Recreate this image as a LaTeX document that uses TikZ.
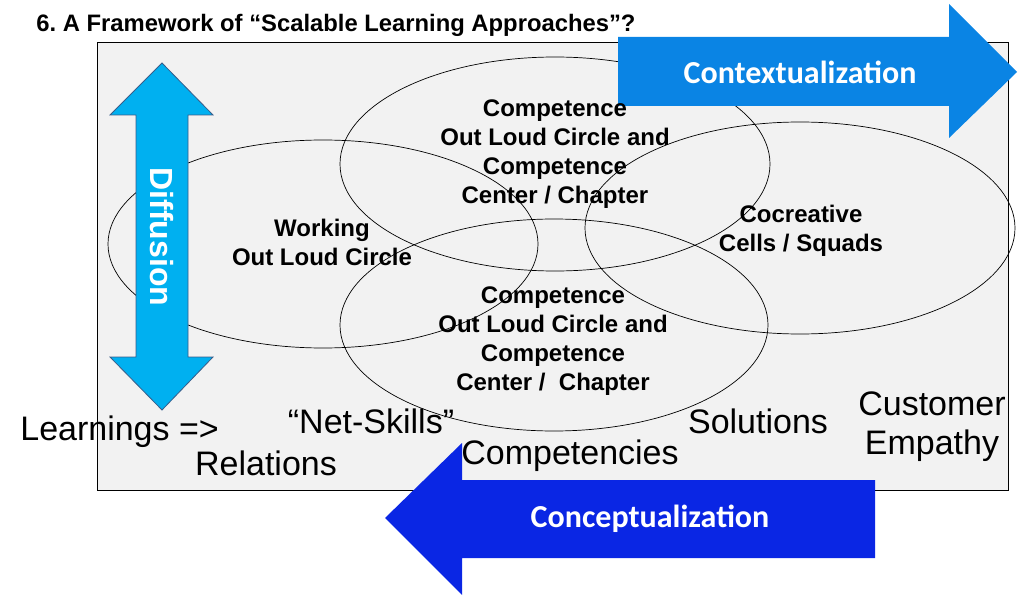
\documentclass[tikz,border=0pt]{standalone}
\usepackage{fontspec}
\setmainfont{Liberation Sans}
\newfontfamily\carlito{Carlito}
\usetikzlibrary{positioning}
\definecolor{cpanel}{HTML}{F2F2F2}
\definecolor{ccontext}{HTML}{0A84E4}
\definecolor{cconcept}{HTML}{0A26E4}
\definecolor{cdiff}{HTML}{00B0F0}
\definecolor{cdiffline}{HTML}{385D8A}
\tikzset{
  every picture/.style={line width=0.7pt},
  every node/.style={inner sep=0pt},
  circ/.style={draw=black, line width=0.7pt},
  circtext/.style={align=center, font=\fontsize{24}{29}\selectfont\bfseries},
  stage/.style={anchor=base, align=center, font=\fontsize{34}{39}\selectfont},
  arrowtext/.style={text=white, font=\carlito\fontsize{32}{38}\selectfont\bfseries},
}

\begin{document}
\begin{tikzpicture}[x=1pt, y=-1pt]
  \useasboundingbox (0,0) rectangle (1026,599);
  % panel
  \filldraw[fill=cpanel, draw=black] (97,42) rectangle (1008,490);
  \node[anchor=base west, font=\fontsize{23.8}{28}\selectfont\bfseries\frenchspacing] (title) at (36,32)
    {6. A Framework of “Scalable Learning Approaches”?};
  % circles
  \draw[circ] (323,244) ellipse [x radius=215pt, y radius=104pt];
  \draw[circ] (555,164) ellipse [x radius=215pt, y radius=107pt];
  \draw[circ] (800,228) ellipse [x radius=215pt, y radius=106pt];
  \draw[circ] (554,325) ellipse [x radius=214pt, y radius=106pt];
  % arrows
  \fill[ccontext] (618,37) -- (949,37) -- (949,4) -- (1017,72) -- (949,138) -- (949,106) -- (618,106) -- cycle;
  \fill[cconcept] (875,480) -- (462,480) -- (462,443) -- (385,518) -- (462,595) -- (462,558) -- (875,558) -- cycle;
  \filldraw[fill=cdiff, draw=cdiffline, line width=0.8pt] (162,63) -- (213,115) -- (188,115) -- (188,357) -- (213,357)
    -- (162,410) -- (110,357) -- (136,357) -- (136,115) -- (110,115) -- cycle;
  \node[arrowtext] (context) at (800,72) {Contextualization};
  \node[arrowtext] (concept) at (650,519) {Conceptualization};
  \node[text=white, rotate=-90, font=\fontsize{32}{38}\selectfont\bfseries] (diffusion) at (162,237) {Diffusion};
  % circle texts
  \node[circtext] (compTop) at (555,154) {Competence\\Out Loud Circle and\\Competence\\Center / Chapter};
  \node[circtext] (working) at (322,242) {Working\\Out Loud Circle};
  \node[circtext] (cocreative) at (801,231) {Cocreative\\Cells / Squads};
  \node[circtext] (compLow) at (553,341) {Competence\\Out Loud Circle and\\Competence\\Center /\ \ Chapter};
  % stages
  \node[stage, anchor=base west] (learnings) at (20,440) {Learnings =>};
  \node[stage] (netskills) at (371,433) {“Net-Skills”};
  \node[stage] (relations) at (266,475) {Relations};
  \node[stage] (competencies) at (570,464) {Competencies};
  \node[stage] (solutions) at (758,433) {Solutions};
  \node[stage] (customer) at (932,415) {Customer};
  \node[stage] (empathy) at (932,454) {Empathy};
\end{tikzpicture}
\end{document}
